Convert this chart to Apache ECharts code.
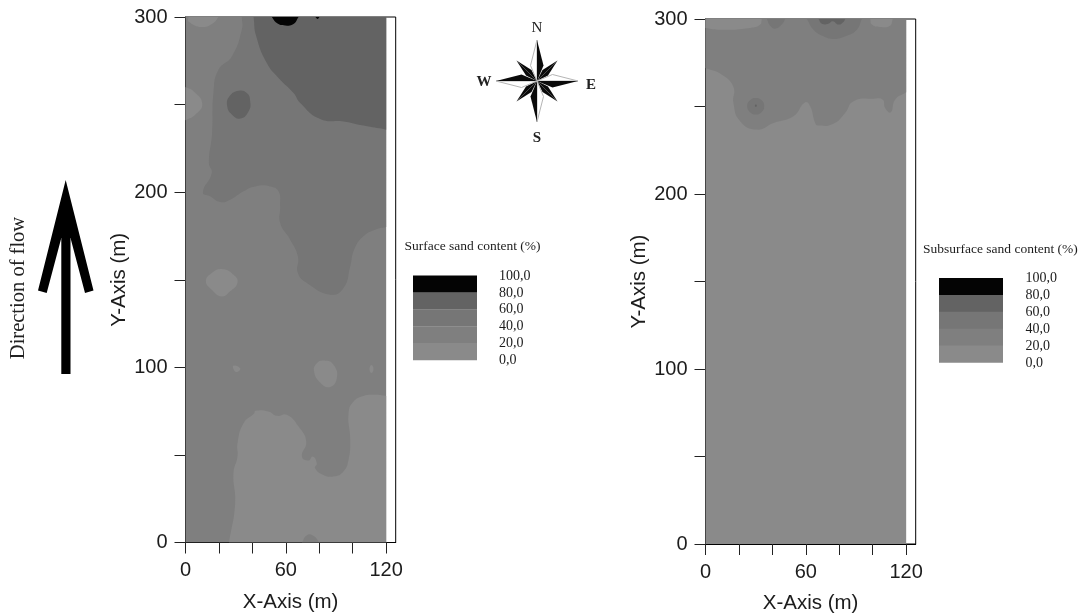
<!DOCTYPE html>
<html><head><meta charset="utf-8">
<style>html,body{margin:0;padding:0;background:#fff}#c{width:1085px;height:615px}</style>
<script src="https://cdn.jsdelivr.net/npm/echarts@6/dist/echarts.min.js"></script>
</head><body><div id="c"></div>
<script>
// axis values
const xTicks = [0,20,40,60,80,100,120];
const xLabels = [0,60,120];
const yTicks = [0,50,100,150,200,250,300];
const yLabels = [0,100,200,300];
const legendLabels = ['100,0','80,0','60,0','40,0','20,0','0,0'];
// sand classes, from 80-100 down to 0-20
const classColors = ['#040404','#636363','#767676','#7f7f7f','#8a8a8a'];

// contour outlines: [x (m), y (m)]
const fullField = [[0,0],[120,0],[120,300],[0,300]];

const s40a = [[33.7,300],[33.7,292.8],[27.7,277.5],[19.7,269.9],[16.7,256.6],[15.9,233.8],[14,216.6],[15.7,210.9],[10.4,199.9],[14.7,197.6],[20.7,194.4],[26.7,195.7],[34.7,200.5],[41.7,203.3],[50.6,203.3],[55.6,200.5],[56.6,191.9],[56.6,182.4],[62.6,172.9],[67.2,163.3],[67.2,153.8],[72.6,148.1],[86.5,141.5],[94.5,145.3],[98.5,157.6],[100.9,167.2],[106.4,174.8],[113.4,178.6],[120,180.1],[120,300]];
const s60a = [[40.7,300],[42.3,289],[48.6,273.7],[55.6,265.2],[64.6,256.6],[68.6,250.9],[80.5,241.8],[94.5,240.4],[106.4,238],[120,235.7],[120,300]];
const s60b = [[31.7,257.9],[36.7,256.6],[38.7,251.9],[37.7,246.1],[32.7,242],[27.7,244.3],[24.9,249.3],[26.3,254.7]];
const s80a = [[51.6,300],[54.6,296.6],[59.6,295.2],[64.6,296],[67.6,300]];
const s80b = [[77.7,300],[79,298.9],[80.1,300]];
const s0a = [[1.8,300],[1.8,297.5],[9.8,294.3],[16.7,296.6],[19.7,300]];
const s0b = [[0,260],[4.8,257.6],[10,250.5],[5.8,244.2],[0,241]];
const s0c = [[21.7,156.1],[28.7,152.9],[31.1,148.5],[26.7,143.4],[21.7,140.5],[15.7,144.3],[12.2,149.1],[15.7,153.8]];
const s0d = [[28.7,101],[32.7,99.5],[31.1,97.4],[29.1,98.2]];
const s0e = [[82.9,103.9],[88.5,101.5],[90.5,93.8],[86.1,88.7],[80.5,91.4],[76.9,97.6],[78.5,102.4]];
const s0f = [[111.2,101.3],[112.4,99],[111.2,96.7],[110,99]];
const s0g = [[26.1,0],[29.7,22.5],[28.7,39.6],[31.1,49.1],[31.1,56.7],[34.7,68.1],[41.1,73.8],[41.7,75.2],[49.6,74.8],[54.6,72.3],[60.6,72.9],[67.6,66.2],[72.2,57.6],[69.6,49.1],[73.5,46.8],[76.1,49.1],[78.5,45.3],[77.5,42.4],[82.5,38.6],[88.5,37.7],[94.5,40.6],[97.5,47.2],[98.5,58.6],[97.5,73.8],[100.5,80.5],[106.4,83.7],[113.4,84.3],[120,83.7],[120,0]];
const s20h = [[69.6,0],[72.6,4.2],[76.5,3.8],[80.1,0]];

const b20a = [[0,272],[9.8,268.2],[16.7,261.2],[16.7,252],[20.7,241.6],[30.7,236.8],[40.7,240.6],[52.6,244.4],[59.6,252.4],[62.6,250.1],[65.6,240.6],[67.6,239.1],[76.5,240.2],[83.5,246.3],[88.5,253],[100.5,254.5],[106,253.9],[107.4,249.2],[110.8,246.7],[113.4,253.9],[120,258.1],[120,300],[0,300]];
const b0a = [[0,300],[0,294.9],[8.8,293.9],[26.7,294.9],[32.7,296.8],[33.7,300]];
const b0b = [[98.5,300],[99.5,296.8],[104.4,295.4],[110.4,296.2],[112,300]];
const b40a = [[36.7,300],[38.7,296.2],[41.7,294.5],[45.6,296.8],[47.6,300]];
const b40b = [[60.6,300],[64.6,293.9],[70.6,290.1],[76.5,288.6],[84.5,290.5],[90.5,293.9],[93.5,300]];
const b60a = [[67.6,300],[69.6,297.3],[73.5,297.3],[76.1,298.7],[79.5,296.8],[82.5,298.3],[83.5,300]];
const b40c = [[30.1,254.9],[33.7,253.4],[35.1,250.1],[33.7,246.9],[30.1,245.4],[26.5,246.9],[24.9,250.1],[26.5,253.4]];
const b60b = [[29.5,250.5],[30.1,251.1],[30.7,250.5],[30.1,249.9]];

// [outline, class index]
const surfaceRegions = [[fullField,3],[s0g,4],[s20h,3],[s0a,4],[s0b,4],[s0c,4],[s0d,4],[s0e,4],[s0f,4],[s40a,2],[s60a,1],[s60b,1],[s80a,0],[s80b,0]];
const subsurfaceRegions = [[fullField,4],[b20a,3],[b0a,4],[b0b,4],[b40a,2],[b40b,2],[b60a,1],[b40c,2],[b60b,1]];

const FONT = '"Liberation Sans",Arial,sans-serif';
const SERIF = '"Liberation Serif","Times New Roman",serif';
const INK = '#1c1c1c';

function xAxis(i){return {gridIndex:i,type:'value',min:0,max:125.7,name:'X-Axis (m)',nameLocation:'middle',nameGap:49,
  nameTextStyle:{fontFamily:FONT,fontSize:20.5,color:INK},
  axisLine:{show:true,onZero:false,lineStyle:{color:'#000',width:1}},
  axisTick:{show:true,length:11,customValues:xTicks,lineStyle:{color:'#222'}},
  axisLabel:{customValues:xLabels,fontFamily:FONT,fontSize:20,color:INK,margin:18,hideOverlap:false,showMaxLabel:true},
  splitLine:{show:false}};}
function yAxis(i){return {gridIndex:i,type:'value',min:0,max:300,name:'Y-Axis (m)',nameLocation:'middle',nameGap:56,
  nameTextStyle:{fontFamily:FONT,fontSize:20.5,color:INK},
  axisLine:{show:true,onZero:false,lineStyle:{color:'#000',width:1}},
  axisTick:{show:true,length:11,customValues:yTicks,lineStyle:{color:'#222'}},
  axisLabel:{customValues:yLabels,fontFamily:FONT,fontSize:20,color:INK,margin:18,hideOverlap:false},
  splitLine:{show:false}};}
// vertices on the field edge are doubled so the smoothing keeps edges and corners straight
const onEdge = p => p[0]===0 || p[0]===120 || p[1]===0 || p[1]===300;
function regionSeries(i,regions){return {type:'custom',coordinateSystem:'cartesian2d',xAxisIndex:i,yAxisIndex:i,silent:true,clip:true,
  animation:false,data:regions.map((r,k)=>[k]),
  encode:{x:[],y:[]},
  renderItem(params,api){const r=regions[api.value(0)],pts=[];
    r[0].forEach(p=>{const c=api.coord(p);pts.push(c);if(onEdge(p))pts.push(c.slice());});
    return {type:'polygon',shape:{points:pts,smooth:r[0]===fullField?0:0.5},style:{fill:classColors[r[1]],stroke:null}};}};}

// scale legend, compass and flow arrow (annotations of the figure)
function legendGraphic(title,titleX,titleY,swX,swY,labelX){
  const W=64,H=16.9,els=[];
  els.push({type:'text',x:titleX,y:titleY,style:{text:title,fontFamily:SERIF,fontSize:13.5,fill:INK,textVerticalAlign:'middle'}});
  classColors.forEach((c,k)=>els.push({type:'rect',shape:{x:swX,y:swY+k*H,width:W,height:H+0.3},style:{fill:c}}));
  legendLabels.forEach((t,k)=>els.push({type:'text',x:labelX,y:swY+k*H+0.5,style:{text:t,fontFamily:SERIF,fontSize:14,fill:INK,textVerticalAlign:'middle'}}));
  return els;
}
function compass(cx,cy){
  const els=[],R=41,k=20.5;
  const rotP=a=>{const rot=a*Math.PI/2;return (dx,dy)=>[cx+dx*Math.cos(rot)-dy*Math.sin(rot),cy+dx*Math.sin(rot)+dy*Math.cos(rot)];};
  for(let a=0;a<4;a++){const P=rotP(a);
    els.push({type:'polygon',shape:{points:[P(k,-k),P(5.5,-11),P(0,0)]},style:{fill:'#0a0a0a'}});
    els.push({type:'polygon',shape:{points:[P(k,-k),P(11,-5.5),P(0,0)]},style:{fill:'#0a0a0a'}});
  }
  for(let a=0;a<4;a++){const P=rotP(a);
    els.push({type:'polygon',shape:{points:[P(0,-R),P(-6.5,-15.5),P(0,0)]},style:{fill:'#fff',stroke:'#b5b5b5',lineWidth:1}});
    els.push({type:'polygon',shape:{points:[P(0,-R),P(6.5,-15.5),P(0,0)]},style:{fill:'#0a0a0a'}});
  }
  [['N',cx,cy-53,'normal'],['S',cx,cy+57,'bold'],['W',cx-53,cy+1,'bold'],['E',cx+54,cy+4,'bold']].forEach(t=>
    els.push({type:'text',x:t[1],y:t[2],style:{text:t[0],fontFamily:SERIF,fontSize:15,fontWeight:t[3],fill:'#222',textAlign:'center',textVerticalAlign:'middle'}}));
  return els;
}
function arrow(){
  return [
    {type:'rect',shape:{x:61.3,y:232,width:9.2,height:142},style:{fill:'#000'}},
    {type:'polygon',shape:{points:[[65.7,180],[93.5,290.5],[85,293],[70.5,238],[61.3,238],[46.7,293],[38,290.5]]},style:{fill:'#000'}},
    {type:'text',x:18.5,y:288,rotation:Math.PI/2,style:{text:'Direction of flow',fontFamily:SERIF,fontSize:20.5,fill:'#222',textAlign:'center',textVerticalAlign:'middle'}}
  ];
}

const chart=echarts.init(document.getElementById('c'),null,{renderer:'canvas'});
chart.setOption({
  animation:false,backgroundColor:'#fff',
  grid:[
    {left:185.5,top:17,width:210.2,height:525.5,outerBoundsMode:'none',show:true,borderColor:'#000',borderWidth:1,backgroundColor:'transparent'},
    {left:705.5,top:19,width:210.2,height:525,outerBoundsMode:'none',show:true,borderColor:'#000',borderWidth:1,backgroundColor:'transparent'}
  ],
  xAxis:[xAxis(0),xAxis(1)],
  yAxis:[yAxis(0),yAxis(1)],
  series:[regionSeries(0,surfaceRegions),regionSeries(1,subsurfaceRegions)],
  graphic:{elements:[].concat(
    legendGraphic('Surface sand content (%)',404.5,246,413,275.5,499),
    legendGraphic('Subsurface sand content (%)',923,249,939,278,1025.5),
    compass(537,81),
    arrow()
  )}
});
</script></body></html>
